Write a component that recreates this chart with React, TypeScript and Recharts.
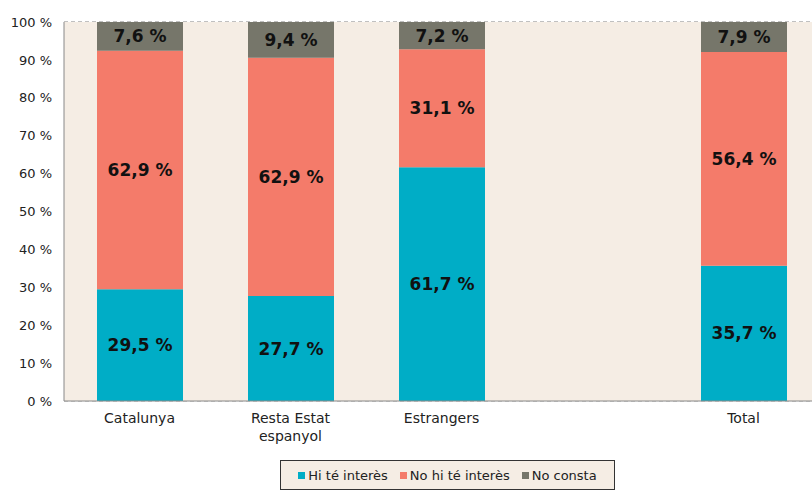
import React from 'react';
import { BarChart, Bar, XAxis, YAxis, CartesianGrid, Legend, LabelList } from 'recharts';

const categories = ['Catalunya', 'Resta Estat\nespanyol', 'Estrangers', '', 'Total'];
const hiTeInteres = [29.5, 27.7, 61.7, null, 35.7];
const noHiTeInteres = [62.9, 62.9, 31.1, null, 56.4];
const noConsta = [7.6, 9.4, 7.2, null, 7.9];
const yTicks = [0, 10, 20, 30, 40, 50, 60, 70, 80, 90, 100];

const series = [
  { key: 'hi', name: 'Hi té interès', color: '#00adc6' },
  { key: 'no', name: 'No hi té interès', color: '#f47b6a' },
  { key: 'nc', name: 'No consta', color: '#76766a' },
];

const data = categories.map((c, i) => ({
  name: c,
  hi: hiTeInteres[i],
  no: noHiTeInteres[i],
  nc: noConsta[i],
}));

const FONT = '"DejaVu Sans", Tahoma, sans-serif';

const fmt = (v: any) => (v == null ? '' : `${String(v).replace('.', ',')} %`);

const CategoryTick = (props: any) => {
  const { x, y, payload } = props;
  const lines = String(payload.value).split('\n');
  return (
    <text x={x} y={y} textAnchor="middle" fontFamily={FONT} fontSize={14} fill="#222">
      {lines.map((l, i) => (
        <tspan key={i} x={x} dy={i === 0 ? 14 : 18}>
          {l}
        </tspan>
      ))}
    </text>
  );
};

const LegendBox = () => (
  <div
    style={{
      border: '1px solid #333',
      background: '#f5ede4',
      height: 30,
      boxSizing: 'border-box',
      display: 'flex',
      alignItems: 'center',
      justifyContent: 'center',
      gap: 12,
      fontFamily: FONT,
      fontSize: 13,
      color: '#222',
    }}
  >
    {series.map((s) => (
      <span key={s.key} style={{ display: 'flex', alignItems: 'center' }}>
        <span style={{ width: 7, height: 7, background: s.color, marginRight: 3, display: 'inline-block' }} />
        {s.name}
      </span>
    ))}
  </div>
);

const App: React.FC = () => {
  return (
    <div style={{ position: 'fixed', left: 0, top: 0, width: 812, height: 494, overflow: 'hidden', background: '#fff' }}>
      <style>{'html,body{margin:0;padding:0;overflow:hidden}'}</style>
      <BarChart
        width={820}
        height={494}
        data={data}
        barSize={86}
        margin={{ top: 22, right: 1, left: 0, bottom: 0 }}
      >
        <rect x={64} y={22} width={760} height={379} fill="#f5ede4" />
        <CartesianGrid vertical={false} strokeDasharray="4 3" stroke="#aaa" />
        <XAxis
          dataKey="name"
          interval={0}
          height={60}
          tickLine={false}
          axisLine={{ stroke: '#888' }}
          tick={<CategoryTick />}
        />
        <YAxis
          width={64}
          domain={[0, 100]}
          ticks={yTicks}
          tickFormatter={(v) => `${v} %`}
          tickLine={false}
          tickSize={10}
          axisLine={{ stroke: '#888' }}
          tick={{ fontFamily: FONT, fontSize: 13, fill: '#222' }}
        />
        <Legend
          verticalAlign="bottom"
          height={33}
          content={<LegendBox />}
          wrapperStyle={{ left: 280, width: 335, bottom: 1 }}
        />
        {series.map((s) => (
          <Bar key={s.key} dataKey={s.key} name={s.name} stackId="a" fill={s.color} isAnimationActive={false}>
            <LabelList
              dataKey={s.key}
              position="center"
              formatter={fmt}
              style={{ fontFamily: FONT, fontSize: 17, fontWeight: 'bold', fill: '#111' }}
            />
          </Bar>
        ))}
      </BarChart>
    </div>
  );
};

export default App;
